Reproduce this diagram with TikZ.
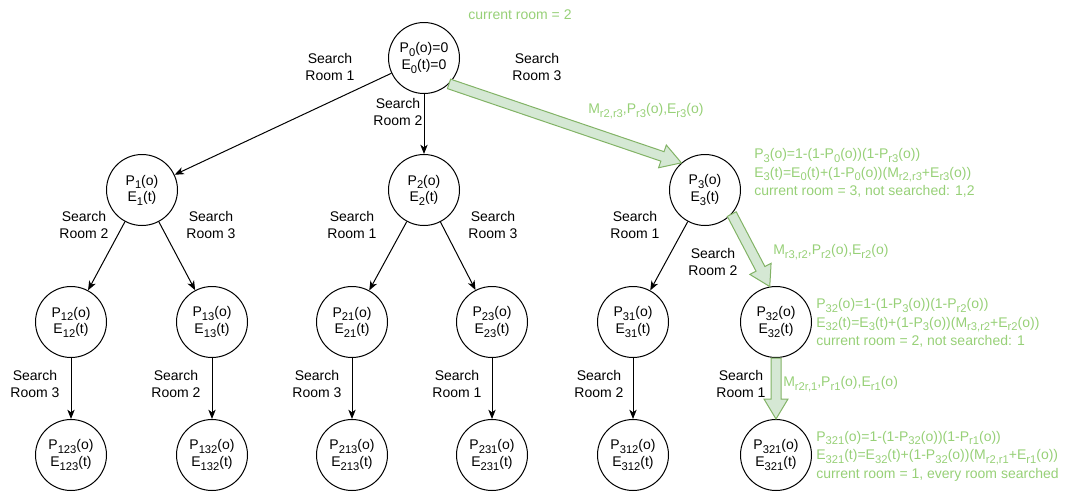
\documentclass[tikz,border=0pt]{standalone}
\usepackage{fontspec}
\setmainfont{Liberation Sans}
\usetikzlibrary{arrows.meta,calc}
\definecolor{gtext}{HTML}{97D077}
\definecolor{gfill}{HTML}{D5E8D4}
\definecolor{gline}{HTML}{82B366}
% lowered, slightly smaller index text
\newcommand{\sbs}[1]{\raisebox{-2.6pt}{\fontsize{8.4}{8.4}\selectfont #1}}
% broad green arrow from #1 to #2 (shaft, head length, head half-width)
\newcommand{\gblock}[2]{%
  \path ($(#2)!15pt!(#1)$) coordinate (gbh);
  \draw[blockarrow]
    ($(#1)!3.75pt!90:(#2)$) -- ($(gbh)!3.75pt!-90:(#1)$) -- ($(gbh)!9pt!-90:(#1)$)
    -- (#2)
    -- ($(gbh)!9pt!90:(#1)$) -- ($(gbh)!3.75pt!90:(#1)$) -- ($(#1)!3.75pt!-90:(#2)$) -- cycle;}
\begin{document}
\begin{tikzpicture}[x=0.75pt,y=-0.75pt,
  every node/.style={font=\fontsize{10.5}{12.5}\selectfont},
  state/.style={circle,draw,line width=0.75pt,minimum size=53.25pt,inner sep=0pt,align=center},
  lbl/.style={align=center},
  gnote/.style={text=gtext,align=left,anchor=west,inner sep=0pt,font=\fontsize{10.5}{13.8}\selectfont},
  edge/.style={draw,line width=0.75pt,-{Stealth[length=7pt,width=5.5pt,inset=2pt]}},
  blockarrow/.style={draw=gline,fill=gfill,line width=0.75pt,line join=miter}]
\useasboundingbox (0,0) rectangle (1067,493);

% states
\node[state] (p0) at (424,58) {P\sbs{0}(o)=0\\E\sbs{0}(t)=0};
\node[state] (p1) at (142,190) {P\sbs{1}(o)\\E\sbs{1}(t)};
\node[state] (p2) at (424,190) {P\sbs{2}(o)\\E\sbs{2}(t)};
\node[state] (p3) at (705,190) {P\sbs{3}(o)\\E\sbs{3}(t)};
\node[state] (p12) at (71,322) {P\sbs{12}(o)\\E\sbs{12}(t)};
\node[state] (p13) at (212,322) {P\sbs{13}(o)\\E\sbs{13}(t)};
\node[state] (p21) at (352,322) {P\sbs{21}(o)\\E\sbs{21}(t)};
\node[state] (p23) at (492,322) {P\sbs{23}(o)\\E\sbs{23}(t)};
\node[state] (p31) at (633,322) {P\sbs{31}(o)\\E\sbs{31}(t)};
\node[state] (p32) at (776,322) {P\sbs{32}(o)\\E\sbs{32}(t)};
\node[state] (p123) at (71,455) {P\sbs{123}(o)\\E\sbs{123}(t)};
\node[state] (p132) at (212,455) {P\sbs{132}(o)\\E\sbs{132}(t)};
\node[state] (p213) at (352,455) {P\sbs{213}(o)\\E\sbs{213}(t)};
\node[state] (p231) at (492,455) {P\sbs{231}(o)\\E\sbs{231}(t)};
\node[state] (p312) at (633,455) {P\sbs{312}(o)\\E\sbs{312}(t)};
\node[state] (p321) at (776,455) {P\sbs{321}(o)\\E\sbs{321}(t)};

% plain search moves
\draw[edge] (p0) -- (p1);
\draw[edge] (p0) -- (p2);
\draw[edge] (p1) -- (p12);
\draw[edge] (p1) -- (p13);
\draw[edge] (p2) -- (p21);
\draw[edge] (p2) -- (p23);
\draw[edge] (p3) -- (p31);
\draw[edge] (p12) -- (p123);
\draw[edge] (p13) -- (p132);
\draw[edge] (p21) -- (p213);
\draw[edge] (p23) -- (p231);
\draw[edge] (p31) -- (p312);

% highlighted search path
\gblock{p0.-46}{p3.131}
\gblock{p3.-42}{p32.100}
\gblock{p32.south}{p321.north}

% move labels
\node[lbl] (s01) at (330,67) {Search\\Room 1};
\node[lbl] (s02) at (398,112) {Search\\Room 2};
\node[lbl] (s03) at (537,67) {Search\\Room 3};
\node[lbl] (s12) at (84,225) {Search\\Room 2};
\node[lbl] (s13) at (211,225) {Search\\Room 3};
\node[lbl] (s21) at (352,225) {Search\\Room 1};
\node[lbl] (s23) at (493,225) {Search\\Room 3};
\node[lbl] (s31) at (635,225) {Search\\Room 1};
\node[lbl] (s32) at (713,262) {Search\\Room 2};
\node[lbl] (s123) at (35,384) {Search\\Room 3};
\node[lbl] (s132) at (176,384) {Search\\Room 2};
\node[lbl] (s213) at (317,384) {Search\\Room 3};
\node[lbl] (s231) at (457,384) {Search\\Room 1};
\node[lbl] (s312) at (599,384) {Search\\Room 2};
\node[lbl] (s321) at (741,384) {Search\\Room 1};

% green annotations
\node[text=gtext] (cur0) at (520,15) {current room = 2};
\node[gnote] (m03) at (588,111) {M\sbs{r2,r3},P\sbs{r3}(o),E\sbs{r3}(o)};
\node[gnote] (n3) at (754,173) {P\sbs{3}(o)=1-(1-P\sbs{0}(o))(1-P\sbs{r3}(o))\\E\sbs{3}(t)=E\sbs{0}(t)+(1-P\sbs{0}(o))(M\sbs{r2,r3}+E\sbs{r3}(o))\\current room = 3, not searched: 1,2};
\node[gnote] (m32) at (773,252) {M\sbs{r3,r2},P\sbs{r2}(o),E\sbs{r2}(o)};
\node[gnote] (n32) at (816,323) {P\sbs{32}(o)=1-(1-P\sbs{3}(o))(1-P\sbs{r2}(o))\\E\sbs{32}(t)=E\sbs{3}(t)+(1-P\sbs{3}(o))(M\sbs{r3,r2}+E\sbs{r2}(o))\\current room = 2, not searched: 1};
\node[gnote] (m21) at (783,384) {M\sbs{r2r,1},P\sbs{r1}(o),E\sbs{r1}(o)};
\node[gnote] (n321) at (816,456) {P\sbs{321}(o)=1-(1-P\sbs{32}(o))(1-P\sbs{r1}(o))\\E\sbs{321}(t)=E\sbs{32}(t)+(1-P\sbs{32}(o))(M\sbs{r2,r1}+E\sbs{r1}(o))\\current room = 1, every room searched};
\end{tikzpicture}
\end{document}
